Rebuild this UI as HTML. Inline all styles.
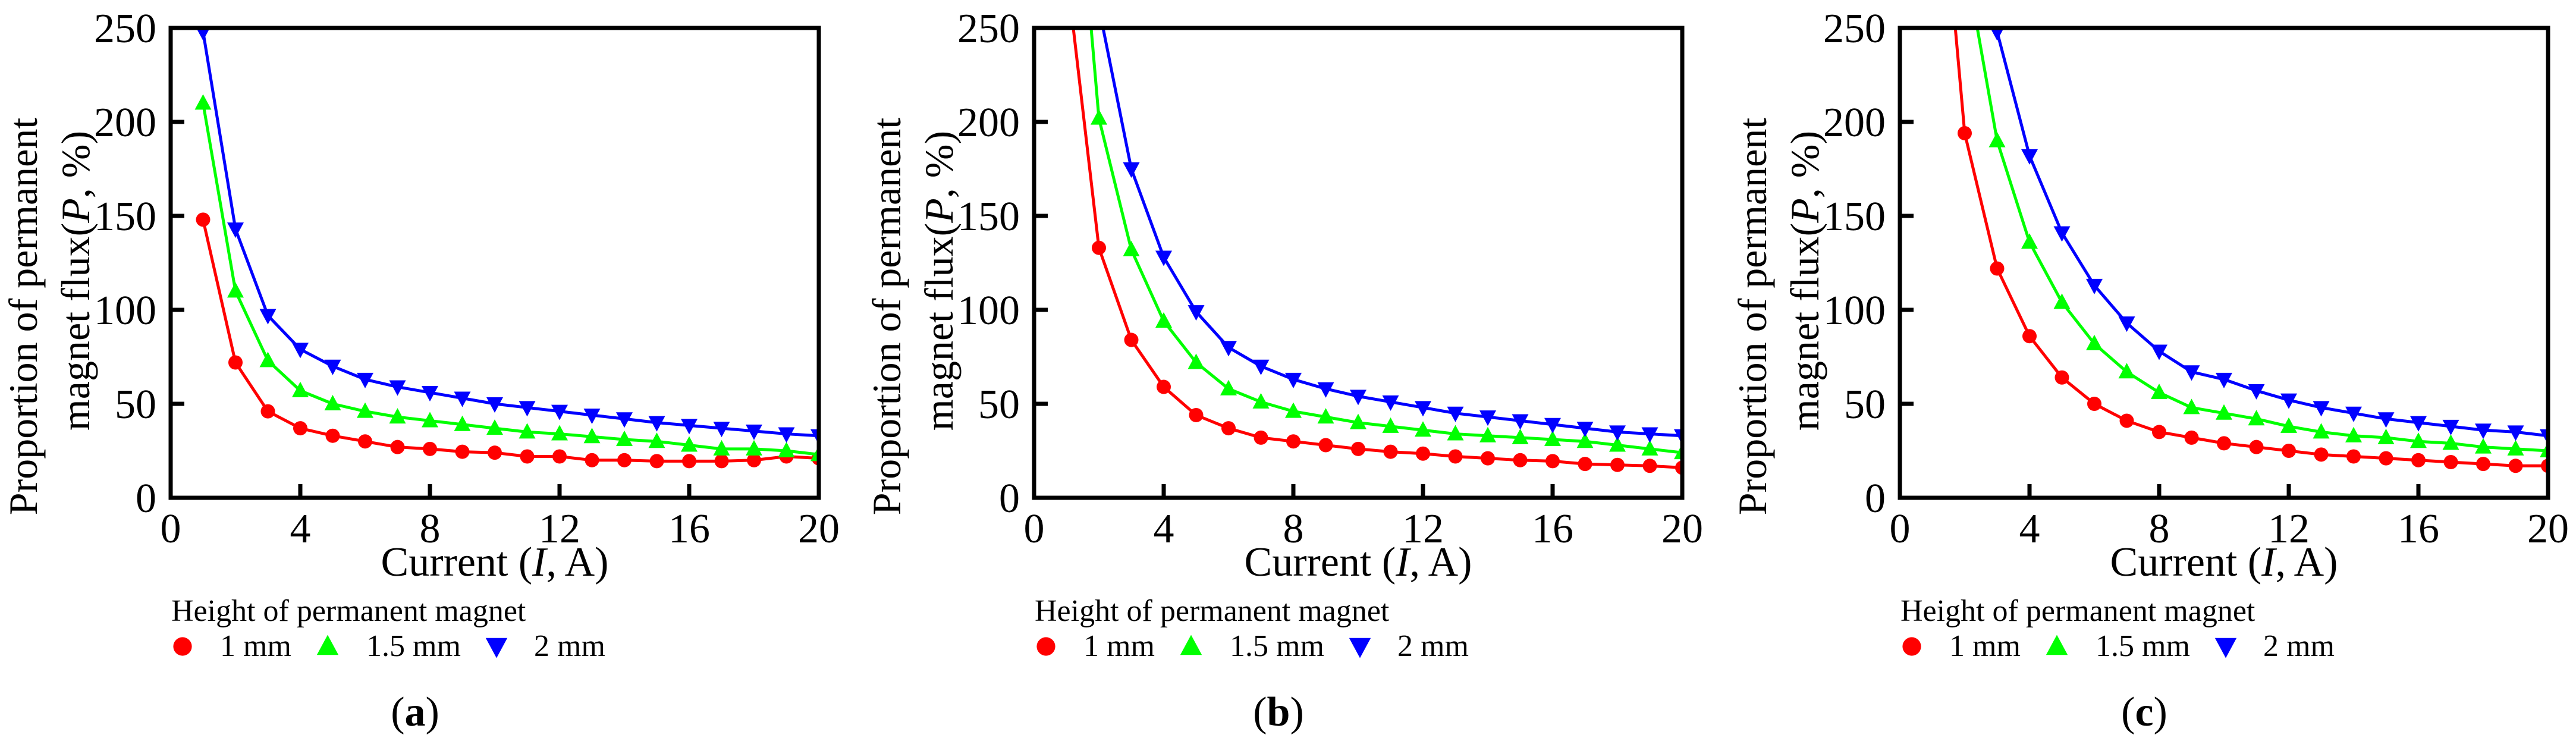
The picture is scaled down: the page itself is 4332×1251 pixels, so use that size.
<!DOCTYPE html>
<html><head><meta charset="utf-8">
<style>
html,body{margin:0;padding:0;background:#fff;}
svg{display:block;}
text{font-family:"Liberation Serif","Times New Roman",serif;fill:#000;}
</style></head>
<body>
<svg id="fig" width="4332" height="1251" viewBox="0 0 4332 1251" xmlns="http://www.w3.org/2000/svg" font-family="Liberation Serif, serif">
<defs id="defs"></defs>
</svg>
<script>
// ---- data ----
const currents = [1,2,3,4,5,6,7,8,9,10,11,12,13,14,15,16,17,18,19,20];
const xTicks = [0,4,8,12,16,20];
const yTicks = [0,50,100,150,200,250];
const seriesNames = ["1 mm","1.5 mm","2 mm"];
const panelLabels = ["a","b","c"];
// panel (a)
const a1mm  = [148,72,46,37,33,30,27,26,24.5,24,22,22,20,20,19.5,19.5,19.5,20,22,21];
const a15mm = [210,110,73,57,50,46,43,41,39,37,35,34,32.5,31,30,28,26,26,25,23];
const a2mm  = [248,143,97,79,70,63,59,56,53,50,48,46,44,42,40,38.5,37,35.5,34,33];
// panel (b)
const b1mm  = [281,133,84,59,44,37,32,30,28,26,24.5,23.5,22,21,20,19.5,18,17.5,17,16];
const b15mm = [402,202,132,94,72,58,51,46,43,40,38,36,34,33,32,31,30,28,26,24];
const b2mm  = [450,261,175,128,99,80,70,63,58,54,51,48,45,43,41,39,37,35,34,33];
// panel (c)
const c1mm  = [387,194,122,86,64,50,41,35,32,29,27,25,23,22,21,20,19,18,17,17];
const c15mm = [500,288,190,136,104,82,67,56,48,45,42,38,35,33,32,30,29,27,26,25];
const c2mm  = [600,400,248,182,141,113,93,78,67,63,57,52,48,45,42,40,38,36,35,33];

const panelData = [[a1mm,a15mm,a2mm],[b1mm,b15mm,b2mm],[c1mm,c15mm,c2mm]];
const colors = ["#ff0000","#00ff00","#0000ff"];
const markerKinds = ["circle","up","down"];

const NS = "http://www.w3.org/2000/svg";
const svg = document.getElementById("fig");
const defs = document.getElementById("defs");
const panelLeft = [287,1739,3195];
const TOP = 47, W = 1090, H = 790;
const xMax = 20, yMax = 250;

function mk(tag, attrs, parent){
  const e = document.createElementNS(NS, tag);
  for (const k in attrs) e.setAttribute(k, attrs[k]);
  parent.appendChild(e);
  return e;
}
function marker(kind, cx, cy, color, parent){
  let e;
  if (kind === "circle") {
    e = mk("circle", {cx:cx, cy:cy, r:12, fill:color}, parent);
  } else if (kind === "up") {
    e = mk("polygon", {points:`${cx},${cy-15} ${cx-14},${cy+11} ${cx+14},${cy+11}`, fill:color}, parent);
  } else {
    e = mk("polygon", {points:`${cx},${cy+15} ${cx-14},${cy-11} ${cx+14},${cy-11}`, fill:color}, parent);
  }
  return e;
}

panelData.forEach((series, p) => {
  const L = panelLeft[p];
  const xs = v => L + v / xMax * W;
  const ys = v => TOP + H - v / yMax * H;
  const cp = mk("clipPath", {id:"clip" + p, clipPathUnits:"userSpaceOnUse"}, defs);
  mk("rect", {x:L, y:TOP, width:W, height:H}, cp);

  const g = mk("g", {}, svg);
  
  

  // y-axis title
  const yt = mk("g", {}, g);
  
  
  const t1 = mk("text", {x:0, y:0, "font-size":68, "text-anchor":"middle",
    transform:`translate(${L-225},532) rotate(-90)`}, yt);
  t1.textContent = "Proportion of permanent";
  const t2 = mk("text", {x:0, y:0, "font-size":68, "text-anchor":"middle",
    transform:`translate(${L-137},472) rotate(-90)`}, yt);
  t2.innerHTML = 'magnet flux(<tspan font-style="italic">P</tspan>, %)';

  // series
  const inner = mk("g", {"clip-path":"url(#clip" + p + ")"}, g);
  series.forEach((vals, s) => {
    const sg = mk("g", {}, inner);
    
    
    const pts = vals.map((v,i) => xs(currents[i]) + "," + ys(v)).join(" ");
    const pl = mk("polyline", {points:pts, fill:"none", stroke:colors[s], "stroke-width":5, "stroke-linejoin":"round"}, sg);
    
    
    vals.forEach((v,i) => {
      const m = marker(markerKinds[s], xs(currents[i]), ys(v), colors[s], sg);
      
      
    });
  });

  // frame
  const fr = mk("rect", {x:L, y:TOP, width:W, height:H, fill:"none", stroke:"#000", "stroke-width":7}, g);
  
  

  // ticks
  xTicks.forEach(t => {
    const x = xs(t);
    const tl = mk("line", {x1:x, x2:x, y1:TOP+H, y2:TOP+H-23, stroke:"#000", "stroke-width":7}, g);
    
    
    const tx = mk("text", {x:x, y:912, "font-size":70, "text-anchor":"middle"}, g);
    
    
    tx.textContent = t;
  });
  yTicks.forEach(t => {
    const y = ys(t);
    const tl = mk("line", {x1:L, x2:L+23, y1:y, y2:y, stroke:"#000", "stroke-width":7}, g);
    
    
    const tx = mk("text", {x:L-24, y:y+24, "font-size":70, "text-anchor":"end"}, g);
    
    
    tx.textContent = t;
  });

  // x-axis title
  const xt = mk("text", {x:L+545, y:968, "font-size":70, "text-anchor":"middle"}, g);
  
  
  xt.innerHTML = 'Current (<tspan font-style="italic">I</tspan>, A)';

  // legend
  const lg = mk("g", {}, g);
  
  
  const lt = mk("text", {x:L+1, y:1044, "font-size":52}, lg);
  
  
  lt.textContent = "Height of permanent magnet";
  const mOff = [20, 264, 548];
  const tOff = [83, 329, 611];
  seriesNames.forEach((n, s) => {
    const eg = mk("g", {}, lg);
    
    
    const lm = marker(markerKinds[s], L+mOff[s], 1087, colors[s], eg);
    lm.setAttribute("transform", `translate(${L+mOff[s]},1087) scale(1.3) translate(${-(L+mOff[s])},-1087)`);
    const et = mk("text", {x:L+tOff[s], y:1103, "font-size":52}, eg);
    et.textContent = n;
  });

  // panel label
  const pl = mk("text", {x:L+411, y:1220, "font-size":70, "text-anchor":"middle"}, g);
  
  
  pl.innerHTML = '(<tspan font-weight="bold">' + panelLabels[p] + '</tspan>)';
});
</script>
</body></html>
